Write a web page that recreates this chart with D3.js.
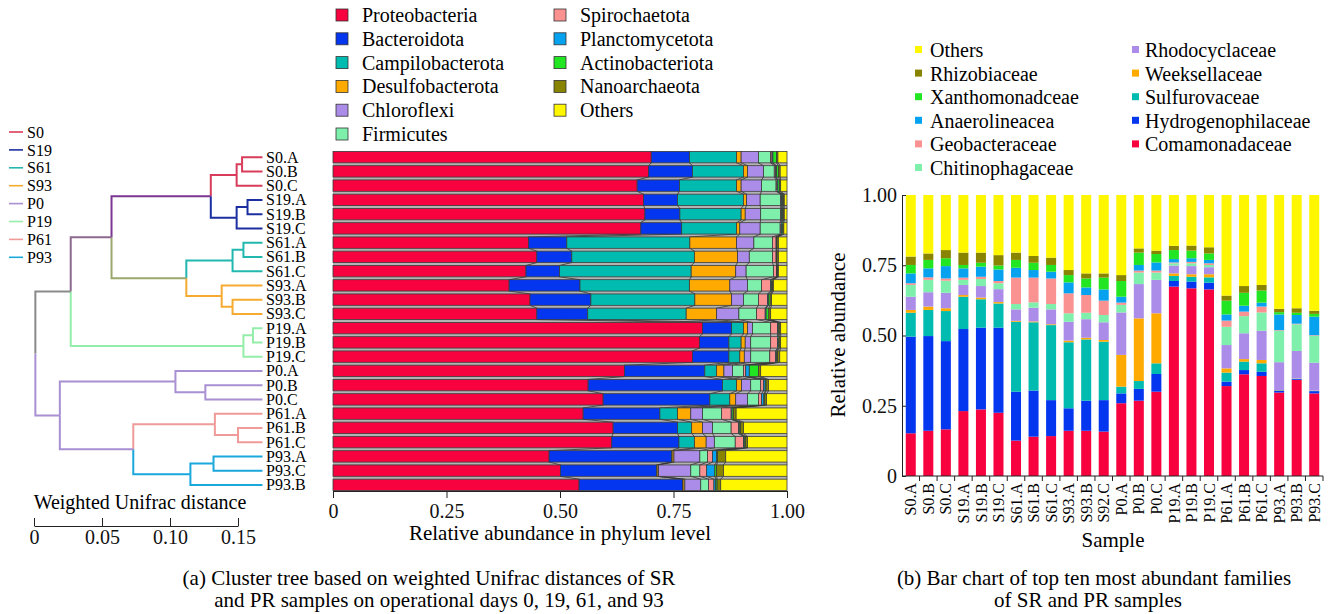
<!DOCTYPE html>
<html>
<head>
<meta charset="utf-8">
<script src="https://cdn.jsdelivr.net/npm/d3@7"></script>
<style>
  body { margin: 0; background: #fff; }
  svg { display: block; font-family: "Liberation Serif", "Times New Roman", serif; }
</style>
</head>
<body>
<svg id="chart" width="1336" height="614"></svg>
<script>
// ---------- data ----------
// leaf order of the cluster tree = row order of the phylum bars
const leafOrder = ["S0.A","S0.B","S0.C","S19.A","S19.B","S19.C","S61.A","S61.B","S61.C",
  "S93.A","S93.B","S93.C","P19.A","P19.B","P19.C","P0.A","P0.B","P0.C",
  "P61.A","P61.B","P61.C","P93.A","P93.C","P93.B"];
const groupNames = ["S0","S19","S61","S93","P0","P19","P61","P93"];
const leafHeight = 0.168; // distance of the leaves from the root
// [node, child 1, child 2, distance from root]
const merges = [
  ["S0.AB","S0.A","S0.B",0.153], ["S0","S0.AB","S0.C",0.149],
  ["S19.AB","S19.A","S19.B",0.157], ["S19","S19.AB","S19.C",0.149],
  ["S0S19","S0","S19",0.130],
  ["S61.AB","S61.A","S61.B",0.154], ["S61","S61.AB","S61.C",0.146],
  ["S93.BC","S93.B","S93.C",0.146], ["S93","S93.A","S93.BC",0.138],
  ["S61S93","S61","S93",0.112],
  ["S","S0S19","S61S93",0.057],
  ["P19.AB","P19.A","P19.B",0.161], ["P19","P19.AB","P19.C",0.154],
  ["SP19","S","P19",0.027],
  ["P0.BC","P0.B","P0.C",0.126], ["P0","P0.A","P0.BC",0.104],
  ["P61.BC","P61.B","P61.C",0.150], ["P61","P61.A","P61.BC",0.133],
  ["P93.AC","P93.A","P93.C",0.132], ["P93","P93.AC","P93.B",0.115],
  ["P61P93","P61","P93",0.073],
  ["P","P0","P61P93",0.019],
  ["root","SP19","P",0.001]
];
const distTicks = [0, 0.05, 0.10, 0.15];

const phyla = ["Proteobacteria","Bacteroidota","Campilobacterota","Desulfobacterota","Chloroflexi",
  "Firmicutes","Spirochaetota","Planctomycetota","Actinobacteriota","Nanoarchaeota","Others"];
// one row per sample, in leafOrder
const phylumValues = [
  [0.701,0.084,0.104,0.010,0.038,0.027,0.003,0.002,0.008,0.003,0.020],
  [0.695,0.097,0.112,0.009,0.035,0.024,0.003,0.002,0.004,0.004,0.015],
  [0.670,0.093,0.126,0.010,0.045,0.032,0.002,0.002,0.004,0.002,0.014],
  [0.684,0.075,0.145,0.007,0.030,0.045,0.002,0.002,0.002,0.002,0.006],
  [0.687,0.077,0.135,0.009,0.034,0.044,0.002,0.002,0.002,0.002,0.006],
  [0.678,0.090,0.121,0.007,0.045,0.044,0.002,0.002,0.002,0.002,0.007],
  [0.431,0.084,0.271,0.103,0.038,0.041,0.008,0.001,0.001,0.003,0.019],
  [0.449,0.077,0.270,0.095,0.026,0.051,0.008,0.001,0.001,0.003,0.019],
  [0.425,0.074,0.290,0.098,0.023,0.060,0.007,0.001,0.001,0.002,0.019],
  [0.388,0.156,0.241,0.089,0.039,0.031,0.020,0.002,0.002,0.002,0.030],
  [0.434,0.134,0.229,0.081,0.026,0.033,0.020,0.002,0.004,0.003,0.034],
  [0.449,0.112,0.217,0.067,0.049,0.039,0.019,0.002,0.006,0.004,0.036],
  [0.814,0.064,0.026,0.009,0.011,0.040,0.015,0.002,0.002,0.003,0.014],
  [0.807,0.065,0.027,0.009,0.012,0.044,0.015,0.002,0.002,0.003,0.014],
  [0.792,0.080,0.024,0.010,0.014,0.042,0.013,0.002,0.002,0.005,0.016],
  [0.642,0.177,0.026,0.016,0.019,0.024,0.005,0.008,0.020,0.005,0.058],
  [0.562,0.296,0.031,0.011,0.020,0.022,0.006,0.004,0.002,0.005,0.041],
  [0.595,0.235,0.044,0.013,0.026,0.024,0.007,0.005,0.002,0.004,0.045],
  [0.551,0.169,0.039,0.029,0.026,0.042,0.021,0.002,0.003,0.006,0.112],
  [0.617,0.142,0.031,0.024,0.022,0.041,0.016,0.002,0.003,0.006,0.096],
  [0.614,0.148,0.034,0.026,0.018,0.046,0.018,0.002,0.003,0.004,0.087],
  [0.476,0.270,0.001,0.004,0.057,0.017,0.011,0.009,0.002,0.018,0.135],
  [0.501,0.212,0.001,0.003,0.071,0.020,0.015,0.018,0.004,0.015,0.140],
  [0.542,0.228,0.001,0.004,0.035,0.017,0.012,0.004,0.003,0.008,0.146]
];
const phylumTicks = [0, 0.25, 0.5, 0.75, 1];

const families = ["Comamonadaceae","Hydrogenophilaceae","Sulfurovaceae","Weeksellaceae","Rhodocyclaceae",
  "Chitinophagaceae","Geobacteraceae","Anaerolineacea","Xanthomonadceae","Rhizobiaceae","Others"];
const famSamples = ["S0.A","S0.B","S0.C","S19.A","S19.B","S19.C","S61.A","S61.B","S61.C",
  "S93.A","S93.B","S92.C","P0.A","P0.B","P0.C","P19.A","P19.B","P19.C",
  "P61.A","P61.B","P61.C","P93.A","P93.B","P93.C"];
// one row per sample, in famSamples order
const familyValues = [
  [0.152,0.344,0.085,0.010,0.047,0.042,0.006,0.035,0.030,0.030,0.219],
  [0.161,0.337,0.093,0.012,0.051,0.044,0.009,0.032,0.030,0.023,0.208],
  [0.166,0.314,0.107,0.010,0.055,0.043,0.008,0.044,0.028,0.029,0.196],
  [0.231,0.292,0.115,0.006,0.036,0.018,0.008,0.033,0.012,0.044,0.205],
  [0.237,0.291,0.101,0.006,0.041,0.025,0.008,0.036,0.014,0.036,0.205],
  [0.225,0.303,0.086,0.005,0.046,0.021,0.008,0.041,0.014,0.037,0.214],
  [0.126,0.174,0.249,0.003,0.041,0.019,0.094,0.035,0.028,0.026,0.205],
  [0.140,0.164,0.243,0.003,0.049,0.019,0.088,0.027,0.026,0.024,0.217],
  [0.142,0.128,0.267,0.003,0.053,0.019,0.091,0.024,0.024,0.026,0.223],
  [0.161,0.080,0.235,0.006,0.067,0.030,0.071,0.039,0.026,0.018,0.267],
  [0.161,0.107,0.218,0.006,0.066,0.023,0.063,0.027,0.032,0.018,0.279],
  [0.158,0.112,0.208,0.006,0.063,0.026,0.051,0.040,0.042,0.015,0.279],
  [0.259,0.035,0.024,0.113,0.151,0.027,0.008,0.021,0.056,0.021,0.285],
  [0.268,0.042,0.028,0.223,0.122,0.041,0.007,0.020,0.044,0.015,0.190],
  [0.300,0.063,0.038,0.178,0.119,0.026,0.007,0.029,0.030,0.012,0.198],
  [0.674,0.020,0.018,0.009,0.028,0.008,0.003,0.012,0.032,0.015,0.181],
  [0.668,0.024,0.017,0.009,0.029,0.010,0.005,0.013,0.027,0.018,0.180],
  [0.664,0.024,0.019,0.011,0.025,0.008,0.006,0.012,0.023,0.022,0.186],
  [0.320,0.016,0.032,0.015,0.083,0.065,0.022,0.022,0.049,0.018,0.358],
  [0.362,0.015,0.030,0.009,0.092,0.061,0.016,0.021,0.046,0.024,0.324],
  [0.356,0.015,0.030,0.012,0.104,0.065,0.021,0.014,0.043,0.020,0.320],
  [0.297,0.007,0.001,0.001,0.099,0.112,0.002,0.056,0.008,0.012,0.405],
  [0.342,0.003,0.001,0.001,0.098,0.095,0.002,0.031,0.008,0.016,0.403],
  [0.294,0.008,0.001,0.001,0.099,0.096,0.002,0.066,0.010,0.011,0.412]
];
const familyTicks = [0, 0.25, 0.5, 0.75, 1];
// legend layout for (b): two columns
const familyLegendCols = [
  ["Others","Rhizobiaceae","Xanthomonadceae","Anaerolineacea","Geobacteraceae","Chitinophagaceae"],
  ["Rhodocyclaceae","Weeksellaceae","Sulfurovaceae","Hydrogenophilaceae","Comamonadaceae"]
];
const captionLines = [
  "(a) Cluster tree based on weighted Unifrac distances of SR",
  "and PR samples on operational days 0, 19, 61, and 93",
  "(b) Bar chart of top ten most abundant families",
  "of SR and PR samples"
];

// ---------- styles ----------
const palette = ["#f7023f","#0435ef","#00bcb0","#ffaa00","#ab8ce8","#7ef0ac",
  "#fb9292","#06a2f0","#22e622","#888400","#fff700"];
const groupColors = {S0:"#d83c5a", S19:"#1c2fa0", S61:"#22b8b0", S93:"#f7aa30",
  P0:"#a890d2", P19:"#94eeaa", P61:"#f09a9a", P93:"#1aa8dc"};
const mixColors = {root:"#8c8c8c", SP19:"#8a8a8a", S:"#8c6a90", S0S19:"#7b3592",
  S61S93:"#9aa86c", P:"#a890d2", P61P93:"#a890d2"};

const svg = d3.select("#chart");
const fmt = d => d === 0 ? "0" : d3.format(".2f")(d);

// ---------- (a) cluster tree ----------
const xDist = d3.scaleLinear().domain([0, 0.15]).range([34, 238]);
const yRow = d3.scaleBand().domain(leafOrder).range([150, 492])
  .paddingInner(0.2).paddingOuter(0.1);

const nodes = {};
leafOrder.forEach(n => {
  nodes[n] = { name: n, h: leafHeight, y: yRow(n) + yRow.bandwidth() / 2, children: null };
});
merges.forEach(([n, a, b, h]) => {
  nodes[n] = { name: n, h: h, children: [nodes[a], nodes[b]], y: (nodes[a].y + nodes[b].y) / 2 };
});
const nodeColor = name => {
  const g = name.split(".")[0];
  return groupColors[g] || mixColors[name] || "#888";
};

const links = [];
merges.forEach(([n]) => nodes[n].children.forEach(c => links.push({ p: nodes[n], c: c })));

svg.append("g").selectAll("path")
  .data(links)
  .join("path")
  .attr("d", d => `M${xDist(d.p.h)},${d.p.y}V${d.c.y}H${xDist(d.c.h)}`)
  .attr("fill", "none")
  .attr("stroke", d => nodeColor(d.c.name))
  .attr("stroke-width", 2);

svg.append("g").selectAll("text")
  .data(leafOrder)
  .join("text")
  .attr("x", 266)
  .attr("y", d => nodes[d].y)
  .attr("dy", "0.35em")
  .attr("font-size", 16)
  .text(d => d);

// group legend
const gLeg = svg.append("g").selectAll("g")
  .data(groupNames)
  .join("g")
  .attr("transform", (d, i) => `translate(0,${132 + i * 17.9})`);
gLeg.append("line").attr("x1", 9).attr("x2", 23)
  .attr("stroke", d => groupColors[d]).attr("stroke-width", 1.6);
gLeg.append("text").attr("x", 27).attr("dy", "0.35em").attr("font-size", 16).text(d => d);

// distance scale bar
const distAxis = svg.append("g")
  .attr("transform", "translate(0,526)")
  .call(d3.axisBottom(xDist).tickValues(distTicks).tickSizeInner(-8).tickSizeOuter(0)
    .tickPadding(4).tickFormat(d => d === 0 ? "0" : d3.format(".2f")(d)));
distAxis.selectAll("text").attr("font-size", 20).attr("font-family", "Liberation Serif").attr("fill", "#111");
distAxis.selectAll("line,path").attr("stroke", "#222");
svg.append("text").attr("x", 140).attr("y", 509).attr("text-anchor", "middle")
  .attr("font-size", 20).text("Weighted Unifrac distance");

// ---------- (a) phylum bars ----------
const xPhy = d3.scaleLinear().domain([0, 1]).range([333, 787]);
const phyRows = leafOrder.map((s, i) => {
  const o = { sample: s };
  phyla.forEach((p, j) => o[p] = phylumValues[i][j]);
  return o;
});
const phyStack = d3.stack().keys(phyla)(phyRows);
const bw = yRow.bandwidth();

// gaps between rows with connector lines
const gaps = svg.append("g");
for (let i = 0; i < leafOrder.length - 1; i++) {
  const y0 = yRow(leafOrder[i]) + bw, y1 = yRow(leafOrder[i + 1]);
  const r0 = phyStack[phyla.length - 1][i][1], r1 = phyStack[phyla.length - 1][i + 1][1];
  gaps.append("path")
    .attr("d", `M${xPhy(0)},${y0}H${xPhy(r0)}L${xPhy(r1)},${y1}H${xPhy(0)}Z`)
    .attr("fill", "#b2b2b2");
  phyStack.forEach(layer => {
    gaps.append("line")
      .attr("x1", xPhy(layer[i][1])).attr("y1", y0)
      .attr("x2", xPhy(layer[i + 1][1])).attr("y2", y1)
      .attr("stroke", "#333").attr("stroke-width", 0.8);
  });
}

svg.append("g").selectAll("g")
  .data(phyStack)
  .join("g")
  .attr("fill", (d, i) => palette[i])
  .selectAll("rect")
  .data(d => d)
  .join("rect")
  .attr("x", d => xPhy(d[0]))
  .attr("y", d => yRow(d.data.sample))
  .attr("width", d => xPhy(d[1]) - xPhy(d[0]))
  .attr("height", bw)
  .attr("stroke", "#3a3a3a")
  .attr("stroke-width", 0.8);

const phyAxis = svg.append("g")
  .attr("transform", "translate(0,491)")
  .call(d3.axisBottom(xPhy).tickValues(phylumTicks).tickSize(7).tickSizeOuter(0)
    .tickPadding(6).tickFormat(fmt));
phyAxis.selectAll("text").attr("font-size", 20).attr("font-family", "Liberation Serif").attr("fill", "#111");
phyAxis.selectAll("line,path").attr("stroke", "#222");
svg.append("text").attr("x", 560).attr("y", 540).attr("text-anchor", "middle")
  .attr("font-size", 21).text("Relative abundance in phylum level");

// phylum legend
const phyLeg = svg.append("g").selectAll("g")
  .data(phyla)
  .join("g")
  .attr("transform", (d, i) => i < 6
    ? `translate(336,${15 + i * 23.8})`
    : `translate(554,${15 + (i - 6) * 23.8})`);
phyLeg.append("rect").attr("x", 0).attr("y", -6).attr("width", 12).attr("height", 12)
  .attr("fill", (d, i) => palette[i]).attr("stroke", "#333").attr("stroke-width", 0.8);
phyLeg.append("text").attr("x", 26).attr("dy", "0.35em").attr("font-size", 20).text(d => d);

// ---------- (b) family bars ----------
const xFam = d3.scaleBand().domain(famSamples).range([902, 1323])
  .paddingInner(0.43).paddingOuter(0.215);
const yFam = d3.scaleLinear().domain([0, 1]).range([476, 195]);
const famRows = famSamples.map((s, i) => {
  const o = { sample: s };
  families.forEach((f, j) => o[f] = familyValues[i][j]);
  return o;
});
const famStack = d3.stack().keys(families)(famRows);

svg.append("g").selectAll("g")
  .data(famStack)
  .join("g")
  .attr("fill", (d, i) => palette[i])
  .selectAll("rect")
  .data(d => d)
  .join("rect")
  .attr("x", d => xFam(d.data.sample))
  .attr("y", d => yFam(d[1]))
  .attr("width", xFam.bandwidth())
  .attr("height", d => yFam(d[0]) - yFam(d[1]));

const famY = svg.append("g")
  .attr("transform", "translate(902,0)")
  .call(d3.axisLeft(yFam).tickValues(familyTicks).tickSizeInner(-4).tickSizeOuter(0)
    .tickPadding(5).tickFormat(fmt));
famY.selectAll("text").attr("font-size", 20).attr("font-family", "Liberation Serif").attr("fill", "#111");
famY.selectAll("line,path").attr("stroke", "#222");

// x axis: line, ticks between bars, rotated labels
const famX = svg.append("g");
famX.append("line").attr("x1", 902).attr("x2", 1323).attr("y1", 476).attr("y2", 476)
  .attr("stroke", "#222");
famX.selectAll(".tk")
  .data(famSamples.slice(1).concat(["end"]))
  .join("line")
  .attr("class", "tk")
  .attr("x1", d => d === "end" ? 1323 : xFam(d) - xFam.step() * xFam.paddingInner() / 2)
  .attr("x2", d => d === "end" ? 1323 : xFam(d) - xFam.step() * xFam.paddingInner() / 2)
  .attr("y1", 476).attr("y2", 481)
  .attr("stroke", "#222");
famX.selectAll("text")
  .data(famSamples)
  .join("text")
  .attr("transform", d => `translate(${xFam(d) + xFam.bandwidth() / 2},483) rotate(-90)`)
  .attr("text-anchor", "end")
  .attr("dy", "0.35em")
  .attr("font-size", 16)
  .text(d => d);

svg.append("text")
  .attr("transform", "translate(845,335) rotate(-90)")
  .attr("text-anchor", "middle")
  .attr("font-size", 21)
  .text("Relative abundance");
svg.append("text").attr("x", 1113).attr("y", 547).attr("text-anchor", "middle")
  .attr("font-size", 21).text("Sample");

// family legend
familyLegendCols.forEach((col, c) => {
  const g = svg.append("g").selectAll("g")
    .data(col)
    .join("g")
    .attr("transform", (d, i) => `translate(${c === 0 ? 915 : 1132},${50 + i * 23.6})`);
  g.append("rect").attr("x", 0).attr("y", -4).attr("width", 7).attr("height", 7)
    .attr("fill", d => palette[families.indexOf(d)]);
  g.append("text").attr("x", c === 0 ? 15 : 13).attr("dy", "0.35em").attr("font-size", 20).text(d => d);
});

// ---------- captions ----------
const captionPos = [[429, 585], [439, 607], [1094, 585], [1088, 607]];
svg.append("g").selectAll("text")
  .data(captionLines)
  .join("text")
  .attr("x", (d, i) => captionPos[i][0])
  .attr("y", (d, i) => captionPos[i][1])
  .attr("text-anchor", "middle")
  .attr("font-size", 21)
  .text(d => d);
</script>
</body>
</html>
